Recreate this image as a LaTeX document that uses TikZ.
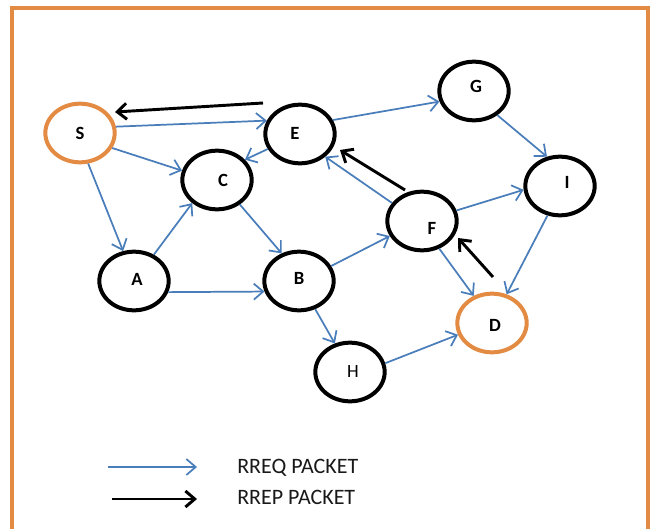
\documentclass[tikz,border=0pt]{standalone}
\usepackage{fontspec}
\setmainfont{Carlito}
\usetikzlibrary{arrows.meta,calc,shapes.geometric}
\definecolor{fr}{HTML}{E38A43}
\definecolor{bl}{HTML}{4A7EBB}
\begin{document}
\begin{tikzpicture}[x=0.75pt,y=-0.75pt,
  nd/.style={ellipse, draw=black, line width=3pt, minimum width=52pt, minimum height=44pt, inner sep=0pt},
  ond/.style={nd, draw=fr},
  lbl/.style={font=\fontsize{14}{16}\selectfont\bfseries, inner sep=0pt},
  lblr/.style={font=\fontsize{14}{16}\selectfont, inner sep=0pt},
  rreq/.style={draw=bl, line width=1.3pt, -{Straight Barb[length=7pt,width=12pt,line width=1.3pt]}},
  rrep/.style={draw=black, line width=2.2pt, -{Straight Barb[length=7pt,width=12pt,line width=2.2pt]}},
  legtext/.style={font=\fontsize{16.5}{19}\selectfont, anchor=west, inner sep=0pt, text=black!90}]
\useasboundingbox (0,0) rectangle (652,528);
\fill[white] (0,0) rectangle (652,528);
\draw[fr, line width=3pt] (12,8) rectangle (648,545);

% nodes
\node[ond] (S) at (80,133) {};
\node[nd] (E) at (300,134) {};
\node[nd] (C) at (217,180) {};
\node[nd] (A) at (134,281) {};
\node[nd] (B) at (299,281) {};
\node[nd] (G) at (474,91) {};
\node[nd] (I) at (560,186) {};
\node[nd] (F) at (422,221) {};
\node[ond] (D) at (492,323) {};
\node[nd] (H) at (350,372) {};

% labels
\node[lbl] (St) at (80,133) {S};
\node[lbl] (Et) at (295,133) {E};
\node[lbl] (Ct) at (223,180) {C};
\node[lbl] (At) at (137,279) {A};
\node[lbl] (Bt) at (299,278) {B};
\node[lbl] (Gt) at (476,86) {G};
\node[lbl] (It) at (567,182) {I};
\node[lbl] (Ft) at (432,228) {F};
\node[lbl] (Dt) at (495,325) {D};
\node[lblr] (Ht) at (353,372) {H};

% RREQ (blue)
\draw[rreq] (S.10) -- (E.158);
\draw[rreq] (S.-25) -- (C.165);
\draw[rreq] (S.-75) -- (A.110);
\draw[rreq] (A.53) -- (C.223);
\draw[rreq] (A.-18) -- (B.197);
\draw[rreq] (C.-47) -- (B.122);
\draw[rreq] (E.205) -- (C.36);
\draw[rreq] (E.23) -- (G.197);
\draw[rreq] (G.-46) -- (I.114);
\draw[rreq] (F.149) -- (E.-42);
\draw[rreq] (F.17) -- (I.186);
\draw[rreq] (B.25) -- (F.205);
\draw[rreq] (F.-58) -- (D.124);
\draw[rreq] (I.247) -- (D.63);
\draw[rreq] (B.-60) -- (H.118);
\draw[rreq] (H.14) -- (D.199);

% RREP (black)
\draw[rrep] ($(E)+(-37,-31)$) -- ($(S)+(35,-21)$);
\draw[rrep] ($(F)+(-17,-31)$) -- ($(E)+(40,16)$);
\draw[rrep] ($(D)+(1,-46)$) -- ($(F)+(36,17)$);

% legend
\coordinate (l1a) at (108,467);
\coordinate (l1b) at (197,467);
\coordinate (l2a) at (112,499);
\coordinate (l2b) at (197,499);
\draw[rreq] (l1a) -- (l1b);
\draw[rrep] (l2a) -- (l2b);
\node[legtext] (t1) at (237,468) {RREQ PACKET};
\node[legtext] (t2) at (237,497) {RREP PACKET};
\end{tikzpicture}
\end{document}
